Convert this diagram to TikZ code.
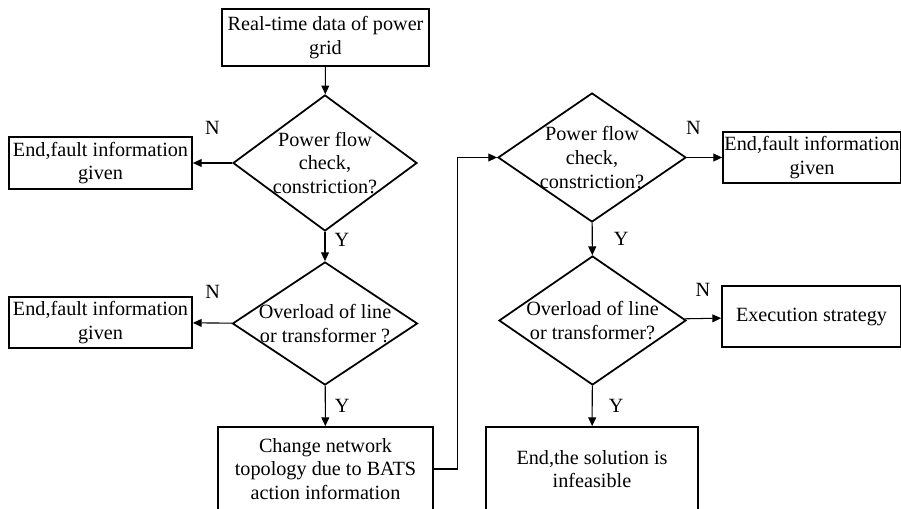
\documentclass[tikz,border=0pt]{standalone}
\usepackage{fontspec}
\setmainfont{Liberation Serif}
\usetikzlibrary{shapes.geometric,arrows.meta}

\begin{document}
\begin{tikzpicture}[
		font=\fontsize{11.5}{13.5}\selectfont,
		box/.style={draw, line width=1pt, align=center, inner sep=0pt},
		decision/.style={draw, diamond, line width=1pt, align=center, inner sep=-8pt},
		flow/.style={line width=0.6pt, -{Triangle[length=5pt, width=4.5pt]}},
		yn/.style={inner sep=0pt}
	]
		\useasboundingbox (0,0) rectangle (18.02,10.16);
		\clip (0,0) rectangle (18.02,10.16);

		% left column
		\node[box, minimum width=4.14cm, minimum height=1.14cm] (data) at (6.51,9.41) {Real-time data of power\\grid};
		\node[decision, minimum width=3.68cm, minimum height=2.72cm] (chk1) at (6.50,6.90) {Power flow\\check,\\constriction?};
		\node[box, minimum width=3.66cm, minimum height=1.04cm] (end1) at (2.01,6.90) {End,fault information\\given};
		\node[decision, minimum width=3.70cm, minimum height=2.46cm] (ovl1) at (6.50,3.69) {Overload of line\\or transformer ?};
		\node[box, minimum width=3.66cm, minimum height=1.02cm] (end2) at (2.01,3.71) {End,fault information\\given};
		\node[box, minimum width=4.30cm, minimum height=1.68cm] (topo) at (6.51,0.78) {Change network\\topology due to BATS\\action information};

		% right column
		\node[decision, minimum width=3.76cm, minimum height=2.58cm] (chk2) at (11.84,7.01) {Power flow\\check,\\constriction?};
		\node[box, minimum width=3.56cm, minimum height=1.02cm] (end3) at (16.24,7.01) {End,fault information\\given};
		\node[decision, minimum width=3.74cm, minimum height=2.58cm] (ovl2) at (11.85,3.75) {Overload of line\\or transformer?};
		\node[box, minimum width=3.58cm, minimum height=1.22cm] (exec) at (16.23,3.83) {Execution strategy};
		\node[box, minimum width=4.24cm, minimum height=1.68cm] (infeas) at (11.84,0.78) {End,the solution is\\infeasible};

		\draw[flow] (data) -- (chk1);
		\draw[flow] (chk1) -- (end1) node[yn, midway, above=0.55cm] (n1) {N};
		\draw[flow] (chk1) -- (ovl1) node[yn, midway, right=0.18cm, yshift=0.13cm] (y1) {Y};
		\draw[flow] (ovl1) -- (end2) node[yn, midway, above=0.48cm] (n2) {N};
		\draw[flow] (ovl1) -- (topo) node[yn, midway, right=0.18cm] (y2) {Y};
		\draw[flow] (topo.east) -- ++(0.48,0) |- (chk2.west);
		\draw[flow] (chk2) -- (end3) node[yn, midway, above=0.44cm, xshift=-0.22cm] (n3) {N};
		\draw[flow] (chk2) -- (ovl2) node[yn, midway, right=0.42cm] (y3) {Y};
		\draw[flow] (ovl2) -- (exec) node[yn, midway, above=0.42cm] (n4) {N};
		\draw[flow] (ovl2) -- (infeas) node[yn, midway, right=0.32cm] (y4) {Y};
\end{tikzpicture}
\end{document}
